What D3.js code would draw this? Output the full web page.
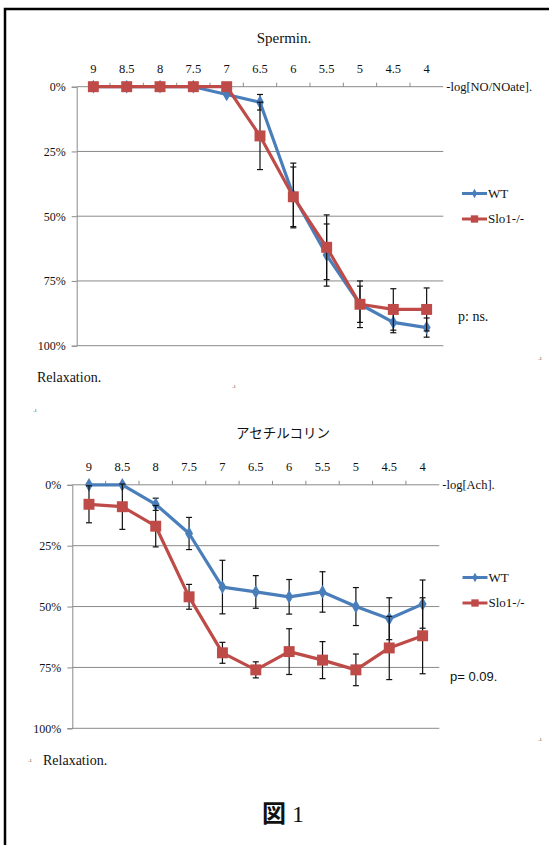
<!DOCTYPE html>
<html>
<head>
<meta charset="utf-8">
<script src="https://cdn.jsdelivr.net/npm/d3@7"></script>
<style>
  body { margin: 0; background: #fff; }
  text { font-family: "Liberation Serif", serif; fill: #111; }
</style>
</head>
<body>
<script>
const doses = ['9', '8.5', '8', '7.5', '7', '6.5', '6', '5.5', '5', '4.5', '4']
const yTicks = [0, 25, 50, 75, 100]
const seriesNames = ['WT', 'Slo1-/-']

// Spermin panel (% relaxation, mean and SEM)
const spermWT = [0, 0, 0, 0, 3, 6, 42, 65, 84, 91, 93]
const spermWTErr = [0, 0, 0, 0, 0, 3, 12.5, 12, 7, 4, 3.7]
const spermKO = [0, 0, 0, 0, 0, 19, 42.5, 62, 84, 86, 86]
const spermKOErr = [0, 0, 0, 0, 0, 13, 11.5, 12.5, 9, 8, 8.3]

// acetylcholine panel
const achWT = [0, 0, 8, 20, 42, 44, 46, 44, 50, 55, 49]
const achWTErr = [0, 0, 2.5, 6.6, 11, 6.7, 7.1, 8.3, 7.8, 8.6, 9.9]
const achKO = [8, 9, 17, 46, 69, 76, 68.5, 72, 76, 67, 62]
const achKOErr = [7.6, 9.3, 8.5, 5.1, 4.3, 3.3, 9.4, 7.6, 6.5, 13, 15.6]

const blue = '#4a7ebb'
const red = '#be4b48'
const gridColor = '#8a8a8a'

const svg = d3.select('body').append('svg')
  .attr('width', 549)
  .attr('height', 845)

// page frame (runs off right and bottom)
svg.append('rect')
  .attr('x', 5).attr('y', 9)
  .attr('width', 600).attr('height', 900)
  .attr('fill', 'none')
  .attr('stroke', '#000')
  .attr('stroke-width', 2.5)

function mark(x, y) {
  svg.append('text').attr('x', x).attr('y', y)
    .style('font-size', '7px').style('fill', '#777')
    .text('.ı')
}

function drawChart(c) {
  const x = d3.scaleBand().domain(doses).range([c.left, c.right])
  const y = d3.scaleLinear().domain([0, 100]).range([c.top, c.bottom])
  const g = svg.append('g')

  // gridlines
  g.selectAll('line.grid')
    .data(yTicks.slice(1))
    .enter().append('line')
    .attr('x1', c.left).attr('x2', c.right)
    .attr('y1', d => y(d)).attr('y2', d => y(d))
    .attr('stroke', gridColor)

  // y axis
  const yAxis = g.append('g')
    .attr('transform', `translate(${c.left},0)`)
    .call(d3.axisLeft(y).tickValues(yTicks).tickFormat(d => d + '%').tickSize(5).tickPadding(6))
  yAxis.select('.domain').attr('stroke', gridColor)
  yAxis.selectAll('.tick line').attr('stroke', gridColor)
  yAxis.selectAll('text').style('font-size', '12px').style('font-family', '"Liberation Serif", serif').attr('fill', '#111')

  // category axis on top
  const xAxis = g.append('g')
    .attr('transform', `translate(0,${c.top})`)
    .call(d3.axisTop(x).tickSize(0).tickPadding(14))
  xAxis.select('.domain').attr('stroke', gridColor).attr('d', `M${c.left},0H${c.right}`)
  xAxis.selectAll('text').style('font-size', '12.5px').style('font-family', '"Liberation Serif", serif').attr('fill', '#111')
  g.selectAll('line.xtick')
    .data(doses.slice(1))
    .enter().append('line')
    .attr('x1', d => x(d)).attr('x2', d => x(d))
    .attr('y1', c.top - 4).attr('y2', c.top)
    .attr('stroke', gridColor)

  const series = [
    { vals: c.wt, err: c.wtErr, color: blue, shape: d3.symbolDiamond, size: 55 },
    { vals: c.ko, err: c.koErr, color: red, shape: d3.symbolSquare, size: 120 }
  ]
  const line = d3.line().x((d, i) => x(doses[i]) + x.bandwidth() / 2).y(d => y(d))

  series.forEach(s => {
    const eb = g.append('g').attr('stroke', '#111').attr('stroke-width', 1.2)
    s.vals.forEach((v, i) => {
      if (!s.err[i]) return
      const cx = x(doses[i]) + x.bandwidth() / 2
      const y1 = y(v - s.err[i]), y2 = y(v + s.err[i])
      eb.append('line').attr('x1', cx).attr('x2', cx).attr('y1', y1).attr('y2', y2)
      eb.append('line').attr('x1', cx - 3).attr('x2', cx + 3).attr('y1', y1).attr('y2', y1)
      eb.append('line').attr('x1', cx - 3).attr('x2', cx + 3).attr('y1', y2).attr('y2', y2)
    })
    g.append('path').datum(s.vals)
      .attr('d', line)
      .attr('fill', 'none')
      .attr('stroke', s.color)
      .attr('stroke-width', 3.2)
      .attr('stroke-linejoin', 'round')
    g.selectAll(null).data(s.vals).enter().append('path')
      .attr('d', d3.symbol().type(s.shape).size(s.size))
      .attr('transform', (d, i) => `translate(${x(doses[i]) + x.bandwidth() / 2},${y(d)})`)
      .attr('fill', s.color)
  })

  // legend
  series.forEach((s, i) => {
    const ly = c.legendY + i * 25.5
    g.append('line').attr('x1', c.legendX).attr('x2', c.legendX + 25)
      .attr('y1', ly).attr('y2', ly).attr('stroke', s.color).attr('stroke-width', 3)
    g.append('path')
      .attr('d', d3.symbol().type(s.shape).size(s.size * 0.45))
      .attr('transform', `translate(${c.legendX + 12.5},${ly})`)
      .attr('fill', s.color)
    g.append('text').attr('x', c.legendX + 26).attr('y', ly + 4)
      .style('font-size', '13px')
      .text(seriesNames[i])
  })

  g.append('text').attr('x', c.right + 3).attr('y', c.top + 4)
    .style('font-size', '12.5px').text(c.axisTitle)
}

drawChart({
  left: 76.7, right: 443.3, top: 86.7, bottom: 345.7,
  wt: spermWT, wtErr: spermWTErr, ko: spermKO, koErr: spermKOErr,
  legendX: 462, legendY: 193.5, axisTitle: '-log[NO/NOate].'
})

drawChart({
  left: 72.3, right: 439.3, top: 484.8, bottom: 728.3,
  wt: achWT, wtErr: achWTErr, ko: achKO, koErr: achKOErr,
  legendX: 462.5, legendY: 577.5, axisTitle: '-log[Ach].'
})

// titles and notes
svg.append('text').attr('x', 284).attr('y', 43).attr('text-anchor', 'middle')
  .style('font-size', '15px').text('Spermin.')
svg.append('text').attr('x', 458).attr('y', 321).style('font-size', '14px').text('p: ns.')
svg.append('text').attr('x', 37).attr('y', 382).style('font-size', '14px').text('Relaxation.')

svg.append('text').attr('x', 283).attr('y', 438).attr('text-anchor', 'middle')
  .style('font-family', '"Noto Sans CJK JP", sans-serif').style('font-size', '13.5px')
  .text('アセチルコリン')
svg.append('text').attr('x', 450).attr('y', 681)
  .style('font-family', '"Liberation Sans", sans-serif').style('font-size', '13px').text('p= 0.09.')
svg.append('text').attr('x', 43).attr('y', 765).style('font-size', '14px').text('Relaxation.')

const fig = svg.append('text').attr('x', 283).attr('y', 822).attr('text-anchor', 'middle')
  .style('font-size', '24px')
fig.append('tspan').style('font-family', '"Noto Sans CJK JP", sans-serif').style('font-weight', 'bold').text('図')
fig.append('tspan').style('font-family', '"Liberation Serif", serif').text(' 1')

mark(232, 388)
mark(33, 412)
mark(538, 360)
mark(538, 741)
mark(28, 762)
</script>
</body>
</html>
